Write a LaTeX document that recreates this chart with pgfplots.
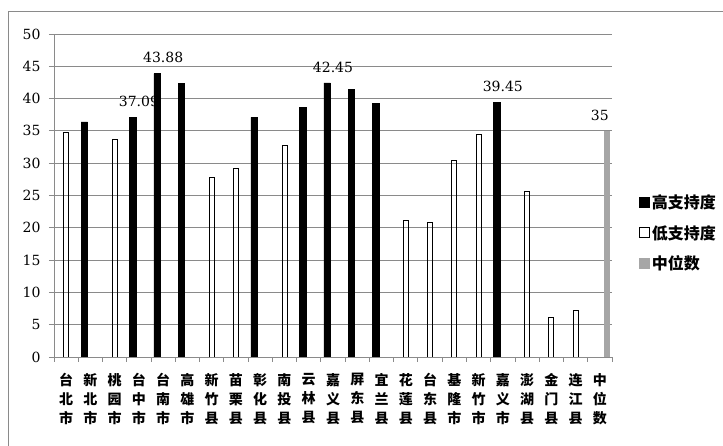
\documentclass[border=0pt]{standalone}
\usepackage{pgfplots}
\pgfplotsset{compat=1.18}
\usepackage{fontspec}
\setmainfont{DejaVu Serif}
\newfontfamily\cjk{Noto Sans CJK SC}

\definecolor{gridgray}{HTML}{8A8A8A}
\definecolor{medgray}{HTML}{A6A6A6}

\begin{document}
\begin{tikzpicture}
\path[use as bounding box] (-54pt,-89pt) rectangle (669pt,357pt);
% outer chart frame (only the top and left edges are in view)
\draw[gridgray, line width=0.9pt] (-46pt,-100pt) -- (-46pt,346pt) -- (680pt,346pt);
\begin{axis}[
    at={(0pt,0pt)}, anchor=south west,
    width=558pt, height=323pt, scale only axis,
    xmin=-0.5, xmax=22.5, ymin=0, ymax=50,
    axis lines*=left,
    axis line style={gridgray, line width=0.9pt},
    tick align=outside,
    ytick={0,5,...,50},
    ymajorgrids,
    major grid style={gridgray, line width=0.9pt},
    major tick length=5pt,
    tick style={gridgray, line width=0.9pt},
    xtick={-0.5,0.5,...,22.5},
    xticklabels={},
    extra x ticks={0,...,22},
    extra x tick style={major tick length=0pt, grid=none},
    extra x tick labels={{台\\北\\市},{新\\北\\市},{桃\\园\\市},{台\\中\\市},{台\\南\\市},{高\\雄\\市},{新\\竹\\县},{苗\\栗\\县},{彰\\化\\县},{南\\投\\县},{云\\林\\县},{嘉\\义\\县},{屏\\东\\县},{宜\\兰\\县},{花\\莲\\县},{台\\东\\县},{基\\隆\\市},{新\\竹\\市},{嘉\\义\\市},{澎\\湖\\县},{金\\门\\县},{连\\江\\县},{中\\位\\数}},
    xticklabel style={font=\cjk\bfseries\fontsize{14}{19}\selectfont, align=center, yshift=-13pt},
    yticklabel style={font=\fontsize{14}{17}\selectfont, xshift=-5pt},
    /pgf/number format/assume math mode=true,
    legend style={draw=none, at={(1.119,0.384)}, anchor=center,
        font=\cjk\bfseries\fontsize{16}{18}\selectfont, row sep=11pt},
    legend cell align=left,
    legend image code/.code={\draw[#1] (0pt,-5pt) rectangle (10pt,5pt);},
]
\addplot[ybar, bar width=6.5pt, bar shift=-6pt, fill=black, draw=black]
    coordinates {(1,36.4) (3,37.09) (4,43.88) (5,42.4) (8,37.1) (10,38.65)
        (11,42.45) (12,41.4) (13,39.3) (18,39.45)};
\addplot[ybar, bar width=5pt, bar shift=0pt, fill=none, draw=black, line width=0.9pt]
    coordinates {(0,34.8) (2,33.7) (6,27.8) (7,29.15) (9,32.8) (14,21.2)
        (15,20.8) (16,30.5) (17,34.5) (19,25.6) (20,6.1) (21,7.2)};
\addplot[ybar, bar width=5pt, bar shift=6.5pt, fill=medgray, draw=medgray]
    coordinates {(22,35)};
% data labels
\addplot[ybar, bar width=6.5pt, bar shift=-6pt, draw=none, fill=none, forget plot,
    point meta=explicit symbolic, nodes near coords,
    nodes near coords style={font=\fontsize{14}{17}\selectfont, black, yshift=7pt}]
    coordinates {(3,37.09)[37.09] (4,43.88)[43.88] (11,42.45)[42.45] (18,39.45)[39.45]};
\addplot[ybar, bar width=5pt, bar shift=6.5pt, draw=none, fill=none, forget plot,
    point meta=explicit symbolic, nodes near coords,
    nodes near coords style={font=\fontsize{14}{17}\selectfont, black, yshift=7pt}]
    coordinates {(22,35)[35]};
\legend{高支持度,低支持度,中位数}
\end{axis}
\end{tikzpicture}
\end{document}
